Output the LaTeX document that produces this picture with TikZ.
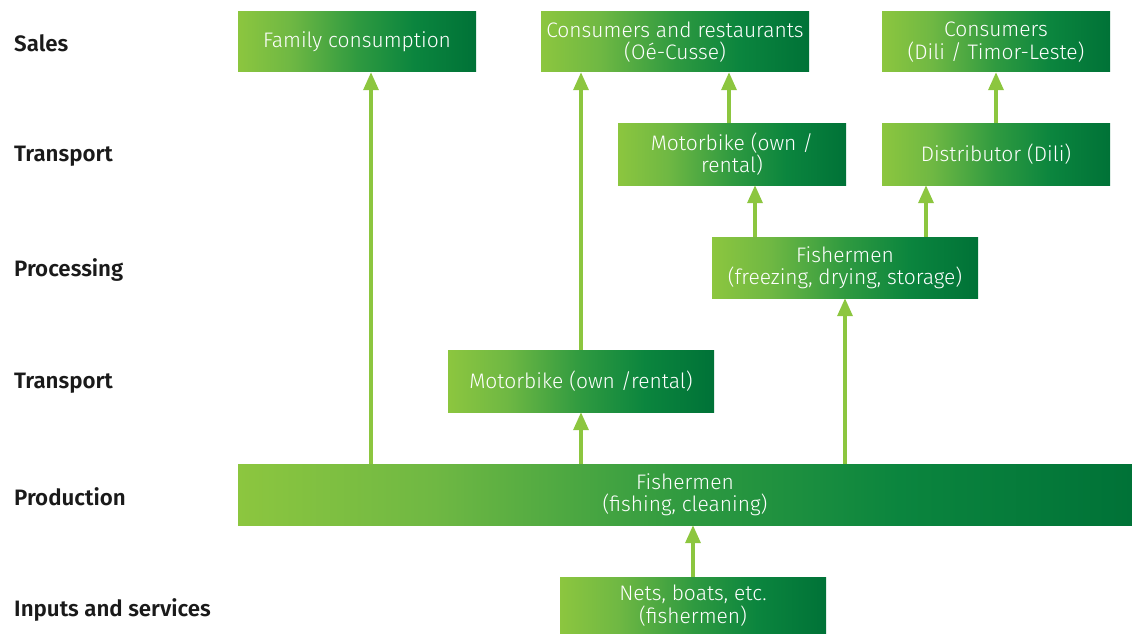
\documentclass[tikz,border=0pt]{standalone}
\usepackage{fontspec}
\setmainfont{Fira Sans}[UprightFont=* Light, BoldFont=* SemiBold]
\usetikzlibrary{arrows.meta}
\definecolor{lg}{HTML}{8CC63F}
\definecolor{lgB}{HTML}{6FB843}
\definecolor{mg}{HTML}{2F9A40}
\definecolor{dgA}{HTML}{0B853E}
\definecolor{dg}{HTML}{007237}
\definecolor{arrowgreen}{HTML}{8CC63F}
\definecolor{labeltext}{HTML}{1A1A1A}
\pgfdeclarehorizontalshading{greenfade}{100bp}{color(0bp)=(lg); color(25bp)=(lg); color(36bp)=(lgB); color(50bp)=(mg); color(62bp)=(dgA); color(75bp)=(dg); color(100bp)=(dg)}
\tikzset{
  box/.style={shading=greenfade, inner sep=0pt, text=white, align=center,
    font=\fontsize{21}{22.5}\selectfont},
  stage/.style={anchor=west, text=labeltext, font=\fontsize{22.3}{24}\selectfont\bfseries, inner sep=0pt},
  arr/.style={draw=arrowgreen, line width=3.4pt,
    -{Triangle[length=18pt, width=15pt]}, shorten >=0pt},
}
\begin{document}
\begin{tikzpicture}[x=1pt, y=-1pt]
\useasboundingbox (0,0) rectangle (1132,634);

% stage labels
\node[stage] (lsales)  at (14,43)  {Sales};
\node[stage] (ltrans2) at (14,156) {Transport};
\node[stage] (lproc)   at (14,270) {Processing};
\node[stage] (ltrans1) at (14,383) {Transport};
\node[stage] (lprod)   at (14,497) {Production};
\node[stage] (linputs) at (14,610) {Inputs and services};

% chain boxes
\node[box, minimum width=238pt, minimum height=60pt] (fam)   at (357,42)  {Family consumption};
\node[box, minimum width=268pt, minimum height=60pt] (cr)    at (675,42)  {Consumers and restaurants\\(Oé-Cusse)};
\node[box, minimum width=228pt, minimum height=60pt] (cons)  at (996,42)  {Consumers\\(Dili / Timor-Leste)};
\node[box, minimum width=228pt, minimum height=62pt] (moto2) at (732,154) {Motorbike (own /\\rental)};
\node[box, minimum width=228pt, minimum height=62pt] (dist)  at (996,154) {Distributor (Dili)};
\node[box, minimum width=266pt, minimum height=61pt] (proc)  at (845,267.5) {Fishermen\\(freezing, drying, storage)};
\node[box, minimum width=266pt, minimum height=62pt] (moto1) at (581,381) {Motorbike (own /rental)};
\node[box, minimum width=894pt, minimum height=61pt] (prod)  at (685,494.5) {Fishermen\\(fishing, cleaning)};
\node[box, minimum width=266pt, minimum height=57pt] (nets)  at (693,605.5) {Nets, boats, etc.\\(fishermen)};

% flows
\draw[arr] (nets.north) -- (nets.north |- prod.south);
\draw[arr] ([xshift=14pt]fam.south |- prod.north) -- ([xshift=14pt]fam.south);
\draw[arr] (moto1.south |- prod.north) -- (moto1.south);
\draw[arr] (moto1.north) -- (moto1.north |- cr.south);
\draw[arr] (proc.south |- prod.north) -- (proc.south);
\draw[arr] ([xshift=-90pt]proc.north) -- ([xshift=-90pt]proc.north |- moto2.south);
\draw[arr] ([xshift=81pt]proc.north) -- ([xshift=81pt]proc.north |- dist.south);
\draw[arr] ([xshift=-3pt]moto2.north) -- ([xshift=-3pt]moto2.north |- cr.south);
\draw[arr] (dist.north) -- (dist.north |- cons.south);
\end{tikzpicture}
\end{document}
